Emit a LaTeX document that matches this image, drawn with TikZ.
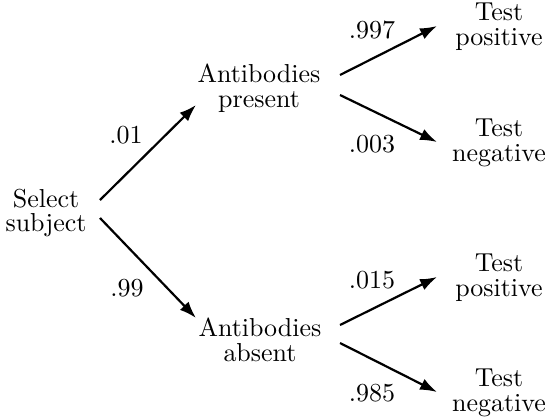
\documentclass[tikz,border=0pt]{standalone}
\usetikzlibrary{arrows.meta,calc}
\begin{document}
\begin{tikzpicture}[x=0.01354cm,y=-0.01354cm,
  lbl/.style={inner sep=0pt,align=center,font=\linespread{0.8}\selectfont},
  prob/.style={inner sep=0pt},
  conn/.style={line width=0.85pt,-{Latex[length=6.5pt,width=4.6pt]}}]
\useasboundingbox (0,0) rectangle (551,419);
\node[lbl] (sel) at (46,213) {Select\\subject};
\node[lbl] (ap) at (259,88) {Antibodies\\present};
\node[lbl] (aa) at (260,340) {Antibodies\\absent};
\node[lbl] (tp1) at (499,27) {Test\\positive};
\node[lbl] (tn1) at (499,143) {Test\\negative};
\node[lbl] (tp2) at (499,278) {Test\\positive};
\node[lbl] (tn2) at (499,393) {Test\\negative};
\draw[conn] ($(sel)+(54,-13)$) -- ($(ap)+(-63,17)$);
\draw[conn] ($(sel)+(54,5)$) -- ($(aa)+(-64,-22)$);
\draw[conn] ($(ap)+(81,-13)$) -- ($(tp1)+(-62,-1)$);
\draw[conn] ($(ap)+(81,7)$) -- ($(tn1)+(-62,-1)$);
\draw[conn] ($(aa)+(80,-15)$) -- ($(tp2)+(-62,-1)$);
\draw[conn] ($(aa)+(80,3)$) -- ($(tn2)+(-62,-1)$);
\node[prob] (p1) at (126,135) {.01};
\node[prob] (p2) at (127,288) {.99};
\node[prob] (p3) at (372,30) {.997};
\node[prob] (p4) at (372,144) {.003};
\node[prob] (p5) at (372,280) {.015};
\node[prob] (p6) at (372,393) {.985};
\end{tikzpicture}
\end{document}
